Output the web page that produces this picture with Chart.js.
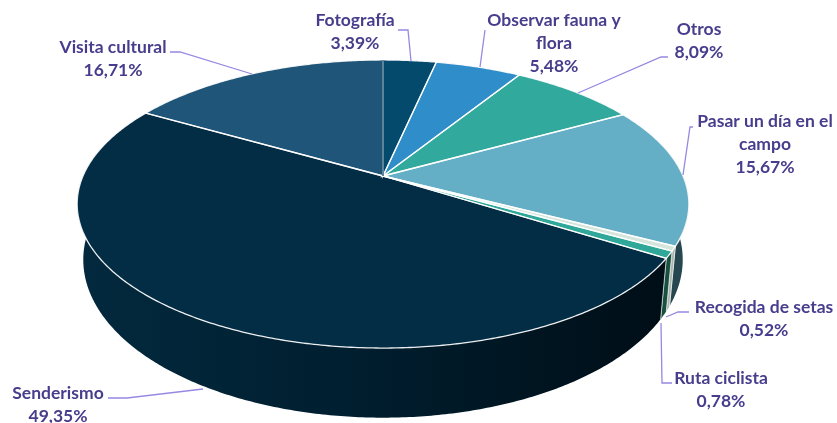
<!DOCTYPE html>
<html>
<head>
<meta charset="utf-8">
<title>Actividades</title>
<script src="https://cdn.jsdelivr.net/npm/chart.js@4"></script>
<style>
  html, body { margin: 0; padding: 0; background: #fff; }
  canvas { display: block; filter: blur(0.45px); }
</style>
</head>
<body>
<canvas id="pieCanvas" width="837" height="423"></canvas>
<script>
const categories = ["Fotografía", "Observar fauna y flora", "Otros", "Pasar un día en el campo", "Recogida de setas", "Ruta ciclista", "Senderismo", "Visita cultural"];
const values = [3.39, 5.48, 8.09, 15.67, 0.52, 0.78, 49.35, 16.71];
const valueLabels = ["3,39%", "5,48%", "8,09%", "15,67%", "0,52%", "0,78%", "49,35%", "16,71%"];

const topColors = ["#034a6d", "#2f8dc9", "#32a99d", "#64aec6", "#d5e5dc", "#2fa899", "#032d45", "#1f5578"];
const wallColors = ["#03303f", "#1d5a80", "#1f6a62", "#264650", "#a9b5ae", "#17503f", "#02263a", "#123a52"];

// wrapped label lines and where each one goes
const labelLines = [["Fotografía"], ["Observar fauna y", "flora"], ["Otros"], ["Pasar un día en el", "campo"], ["Recogida de setas"], ["Ruta ciclista"], ["Senderismo"], ["Visita cultural"]];
const labelX = [355, 554, 699, 765, 764, 721, 58, 113];
const labelY = [20, 20, 29, 121, 307, 378, 393, 47];
const leaders = [
  [[398, 30], [408, 30], [411, 61]],
  [[485, 30], [480, 67]],
  [[668, 57], [661, 57], [578, 93]],
  [[693, 127], [690, 127], [683, 175]],
  [[689, 312], [678, 312], [666, 317]],
  [[672, 383], [662, 383], [661, 323]],
  [[108, 398], [127, 398], [203, 389]],
  [[170, 52], [180, 52], [252, 74]],
];

// perspective of the disc: the apex sits above the middle of the ellipse
const persp = 0.1944;
const topFace = { cx: 383, cy: 176, rx: 300, ry: 138.6 };
const bottomFace = { cx: 383, cy: 229, rx: 294, ry: 152 };

function project(face, angle) {
  const u = Math.cos(angle);
  const v = Math.sin(angle);
  const w = 1 - persp * v;
  return [face.cx + face.rx * u / w, face.cy + face.ry * v / w];
}

function traceRim(ctx, face, from, to) {
  const steps = Math.max(2, Math.ceil(Math.abs(to - from) / 0.01));
  for (let i = 0; i <= steps; i++) {
    const p = project(face, from + (to - from) * i / steps);
    ctx.lineTo(p[0], p[1]);
  }
}

const frontFrom = -0.2;
const frontTo = Math.PI + 0.2;

function drawWalls(ctx, arcs) {
  arcs.forEach((arc, i) => {
    const from = Math.max(arc.startAngle, frontFrom);
    const to = Math.min(arc.endAngle, frontTo);
    if (to <= from) return;
    ctx.beginPath();
    traceRim(ctx, topFace, from, to);
    traceRim(ctx, bottomFace, to, from);
    ctx.closePath();
    if (i === 6) {
      const g = ctx.createLinearGradient(80, 0, 660, 0);
      g.addColorStop(0, "#03293e");
      g.addColorStop(0.45, "#001f30");
      g.addColorStop(1, "#000e17");
      ctx.fillStyle = g;
    } else {
      ctx.fillStyle = wallColors[i];
    }
    ctx.fill();
    ctx.strokeStyle = "rgba(255,255,255,0.7)";
    ctx.lineWidth = 0.8;
    [arc.startAngle, arc.endAngle].forEach((a) => {
      if (a < frontFrom || a > frontTo) return;
      const p0 = project(topFace, a);
      const p1 = project(bottomFace, a);
      ctx.beginPath();
      ctx.moveTo(p0[0], p0[1]);
      ctx.lineTo(p1[0], p1[1]);
      ctx.stroke();
    });
  });
}

function drawTop(ctx, arcs) {
  arcs.forEach((arc, i) => {
    ctx.beginPath();
    ctx.moveTo(topFace.cx, topFace.cy);
    traceRim(ctx, topFace, arc.startAngle, arc.endAngle);
    ctx.closePath();
    ctx.fillStyle = topColors[i];
    ctx.fill();
  });
  arcs.forEach((arc) => {
    ctx.beginPath();
    ctx.moveTo(topFace.cx, topFace.cy);
    traceRim(ctx, topFace, arc.startAngle, arc.endAngle);
    ctx.closePath();
    ctx.strokeStyle = "rgba(255,255,255,0.9)";
    ctx.lineWidth = 1.3;
    ctx.stroke();
  });
  // the seam at twelve o'clock shows lighter and wider in the original
  const a = arcs[0].startAngle;
  const p = project(topFace, a);
  ctx.beginPath();
  ctx.moveTo(topFace.cx, topFace.cy);
  ctx.lineTo(p[0], p[1]);
  ctx.strokeStyle = "#5b8399";
  ctx.lineWidth = 2;
  ctx.stroke();
}

function drawLabels(ctx) {
  ctx.strokeStyle = "#9589e2";
  ctx.lineWidth = 1.3;
  leaders.forEach((pts) => {
    ctx.beginPath();
    pts.forEach((p, i) => (i ? ctx.lineTo(p[0], p[1]) : ctx.moveTo(p[0], p[1])));
    ctx.stroke();
  });
  ctx.font = "bold 17.5px Lato";
  ctx.fillStyle = "#473d8c";
  ctx.textAlign = "center";
  ctx.textBaseline = "middle";
  categories.forEach((name, i) => {
    const lines = labelLines[i].concat(valueLabels[i]);
    lines.forEach((line, j) => {
      ctx.fillText(line, labelX[i], labelY[i] + j * 23);
    });
  });
}

const pie3d = {
  id: "pie3d",
  beforeDatasetDraw(chart) {
    const ctx = chart.ctx;
    const arcs = chart.getDatasetMeta(0).data;
    ctx.save();
    drawWalls(ctx, arcs);
    drawTop(ctx, arcs);
    drawLabels(ctx);
    ctx.restore();
    return false;
  },
};

new Chart(document.getElementById("pieCanvas").getContext("2d"), {
  type: "pie",
  data: {
    labels: categories,
    datasets: [{ data: values, backgroundColor: topColors }],
  },
  options: {
    responsive: false,
    animation: false,
    plugins: { legend: { display: false }, tooltip: { enabled: false } },
  },
  plugins: [pie3d],
});
</script>
</body>
</html>
